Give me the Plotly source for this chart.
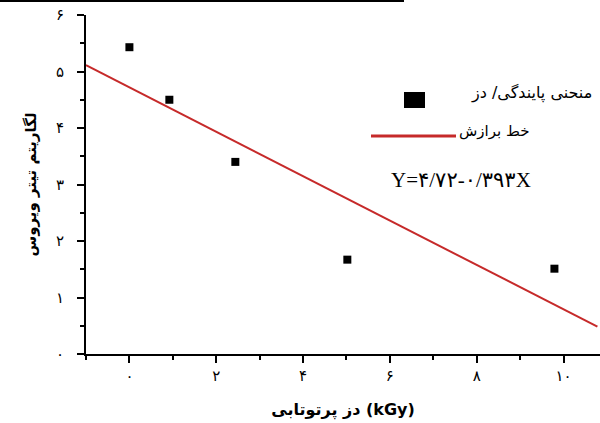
import plotly.graph_objects as go

# ---- data ----
dose = [0.0, 0.92, 2.44, 5.02, 9.79]
log_titer = [5.43, 4.50, 3.40, 1.67, 1.51]
fit_intercept = 4.72
fit_slope = -0.393
fit_x = [-1.0, 10.78]
fit_y = [fit_intercept + fit_slope * x for x in fit_x]

x_tick_vals = [0, 2, 4, 6, 8, 10]
x_tick_text = ["۰", "۲", "۴", "۶", "۸", "۱۰"]
y_tick_vals = [0, 1, 2, 3, 4, 5, 6]
y_tick_text = ["۰", "۱", "۲", "۳", "۴", "۵", "۶"]

x_title = "دز پرتوتابی (kGy)"
y_title = "لگاریتم تیتر ویروس"
legend_points = "منحنی پایندگی/ دز"
legend_fit = "خط برازش"
equation = "Y=۴/۷۲-۰/۳۹۳X"

RED = "#c62a2a"
FONT = "DejaVu Sans"

# plot geometry (pixels) for converting decorative elements to paper coords
L, R, T, B = 86, 0, 15, 69
W, H = 600, 423
PW, PH = W - L - R, H - T - B


def px(xp):
    return (xp - L) / PW


def py(yp):
    return (H - B - yp) / PH


fig = go.Figure()
fig.add_trace(go.Scatter(x=fit_x, y=fit_y, mode="lines",
                         line=dict(color=RED, width=2), showlegend=False,
                         cliponaxis=False))
fig.add_trace(go.Scatter(x=dose, y=log_titer, mode="markers",
                         marker=dict(symbol="square", size=8, color="black"),
                         showlegend=False, cliponaxis=False))

fig.update_xaxes(range=[-1, 10.84], showgrid=False, zeroline=False,
                 automargin=False,
                 showline=True, linecolor="black", linewidth=2,
                 ticks="outside", ticklen=7, tickwidth=2, tickcolor="black",
                 tickvals=x_tick_vals, ticktext=x_tick_text,
                 tickfont=dict(family=FONT, size=15, color="black"),
                 minor=dict(tickvals=[-1, 1, 3, 5, 7, 9], ticks="outside",
                            ticklen=4, tickwidth=2, tickcolor="black"),
                 title=dict(text="<b>" + x_title + "</b>", standoff=20,
                            font=dict(family=FONT, size=16, color="black")))
fig.update_yaxes(range=[0, 6], showgrid=False, zeroline=False,
                 automargin=False,
                 showline=True, linecolor="black", linewidth=2,
                 ticks="outside", ticklen=7, tickwidth=2, tickcolor="black",
                 tickvals=y_tick_vals, ticktext=y_tick_text,
                 ticklabelstandoff=10,
                 tickfont=dict(family=FONT, size=15, color="black"),
                 minor=dict(tickvals=[0.5, 1.5, 2.5, 3.5, 4.5, 5.5],
                            ticks="outside", ticklen=4, tickwidth=2,
                            tickcolor="black"),
                 title=dict(text="<b>" + y_title + "</b>", standoff=16,
                            font=dict(family=FONT, size=15, color="black")))

shapes = [
    # top border line
    dict(type="line", xref="paper", yref="paper", x0=px(0), x1=px(404),
         y0=py(1), y1=py(1), line=dict(color="black", width=2)),
    # legend square
    dict(type="rect", xref="paper", yref="paper", x0=px(404), x1=px(425),
         y0=py(108), y1=py(92), fillcolor="black", line=dict(width=0)),
    # legend line
    dict(type="line", xref="paper", yref="paper", x0=px(371), x1=px(456),
         y0=py(136), y1=py(136), line=dict(color=RED, width=3)),
]
annotations = [
    dict(text=legend_points, xref="paper", yref="paper", x=px(594), y=py(93),
         xanchor="right", yanchor="middle", showarrow=False,
         font=dict(family=FONT, size=16, color="black")),
    dict(text=legend_fit, xref="paper", yref="paper", x=px(531), y=py(131),
         xanchor="right", yanchor="middle", showarrow=False,
         font=dict(family=FONT, size=15, color="black")),
    dict(text=equation, xref="paper", yref="paper", x=px(461), y=py(180),
         xanchor="center", yanchor="middle", showarrow=False,
         font=dict(family="Liberation Serif, DejaVu Sans", size=21,
                   color="black")),
]

fig.update_layout(width=W, height=H,
                  margin=dict(l=L, r=R, t=T, b=B, autoexpand=False),
                  plot_bgcolor="white", paper_bgcolor="white",
                  shapes=shapes, annotations=annotations,
                  showlegend=False)

fig.write_html("out.html",
               config={"displayModeBar": False},
               post_script="document.body.style.margin='0';"
                           "document.body.style.padding='0';"
                           "document.body.style.overflow='hidden';")
